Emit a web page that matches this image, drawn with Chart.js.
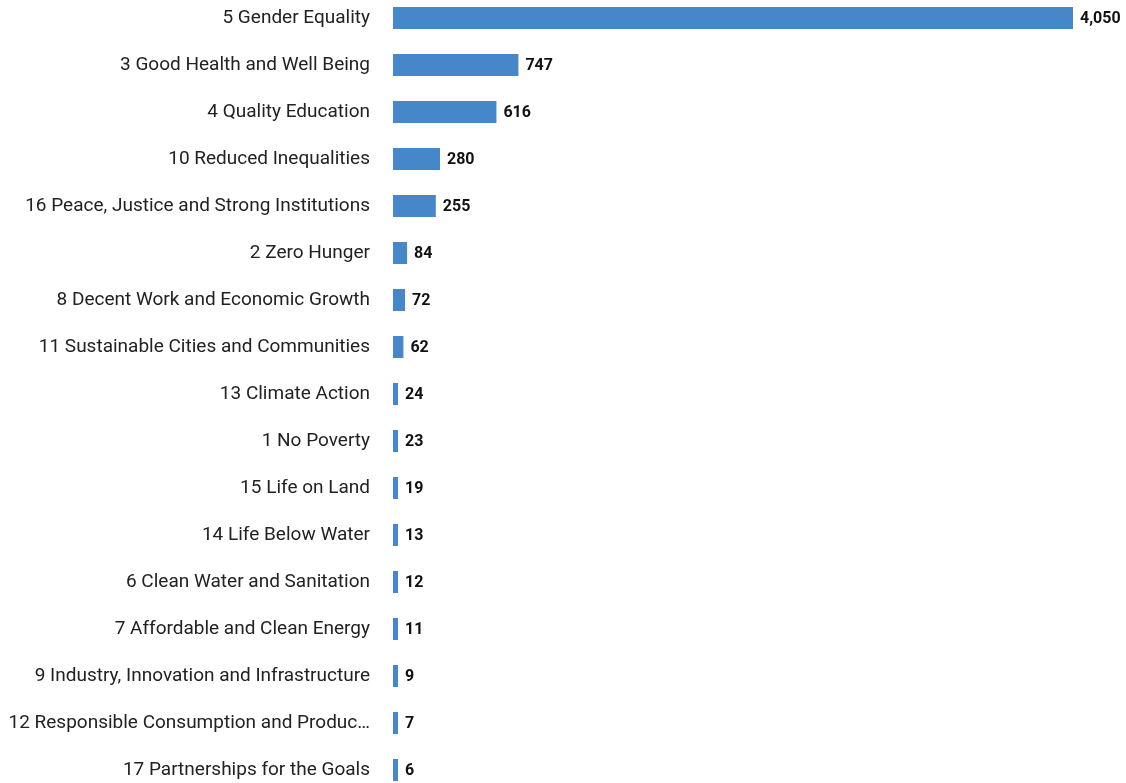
<!DOCTYPE html>
<html>
<head>
<meta charset="utf-8">
<script src="https://cdn.jsdelivr.net/npm/chart.js@4"></script>
<style>
  html, body { margin: 0; padding: 0; background: #fff; overflow: hidden; }
  #wrap { position: relative; top: -6px; width: 1126px; height: 805px; }
</style>
</head>
<body>
<div id="wrap"><canvas id="sdgChart"></canvas></div>
<script>
const goals = [
  "5 Gender Equality",
  "3 Good Health and Well Being",
  "4 Quality Education",
  "10 Reduced Inequalities",
  "16 Peace, Justice and Strong Institutions",
  "2 Zero Hunger",
  "8 Decent Work and Economic Growth",
  "11 Sustainable Cities and Communities",
  "13 Climate Action",
  "1 No Poverty",
  "15 Life on Land",
  "14 Life Below Water",
  "6 Clean Water and Sanitation",
  "7 Affordable and Clean Energy",
  "9 Industry, Innovation and Infrastructure",
  "12 Responsible Consumption and Produc\u2026",
  "17 Partnerships for the Goals"
];
const counts = [4050, 747, 616, 280, 255, 84, 72, 62, 24, 23, 19, 13, 12, 11, 9, 7, 6];

// value labels to the right of each bar
const valueLabels = {
  id: "valueLabels",
  afterDatasetsDraw(chart) {
    const ctx = chart.ctx;
    const meta = chart.getDatasetMeta(0);
    ctx.save();
    ctx.font = "bold 16px Roboto";
    ctx.fillStyle = "#111";
    ctx.textAlign = "left";
    ctx.textBaseline = "middle";
    meta.data.forEach((bar, i) => {
      ctx.fillText(counts[i].toLocaleString("en-US"), bar.x + 7, bar.y + 1);
    });
    ctx.restore();
  }
};

new Chart(document.getElementById("sdgChart").getContext("2d"), {
  type: "bar",
  data: {
    labels: goals,
    datasets: [{
      data: counts,
      backgroundColor: "#4587c8",
      borderWidth: 0,
      minBarLength: 5,
      barPercentage: 0.47,
      categoryPercentage: 1
    }]
  },
  options: {
    indexAxis: "y",
    responsive: true,
    maintainAspectRatio: false,
    animation: false,
    layout: { padding: { left: 10, right: 53, top: 0.5, bottom: 5.5 } },
    plugins: { legend: { display: false }, tooltip: { enabled: false } },
    scales: {
      x: { display: false, min: 0, max: 4050 },
      y: {
        grid: { display: false, drawTicks: false },
        border: { display: false },
        ticks: { padding: 23, color: "#222", font: { family: "Roboto", size: 19 } },
        afterFit(scale) {
          scale.width = 383;
          scale.paddingTop = 0;
          scale.paddingBottom = 0;
        }
      }
    }
  },
  plugins: [valueLabels]
});
</script>
</body>
</html>
